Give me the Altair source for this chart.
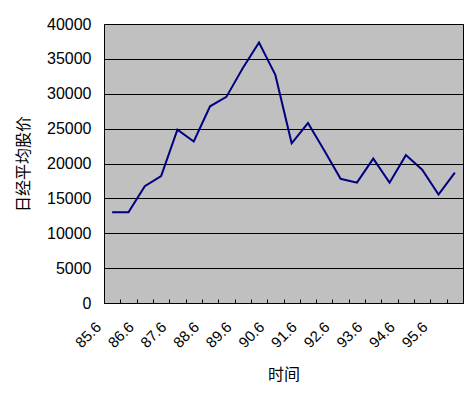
import altair as alt
import pandas as pd

periods = ["85.6", "85.12", "86.6", "86.12", "87.6", "87.12", "88.6", "88.12",
           "89.6", "89.12", "90.6", "90.12", "91.6", "91.12", "92.6", "92.12",
           "93.6", "93.12", "94.6", "94.12", "95.6", "95.12"]
nikkei = [13000, 13000, 16750, 18200, 24850, 23150, 28200, 29550,
          33650, 37350, 32700, 22900, 25800, 21850, 17800, 17250,
          20700, 17250, 21200, 19100, 15550, 18700]
y_ticks = [0, 5000, 10000, 15000, 20000, 25000, 30000, 35000, 40000]

df = pd.DataFrame({"period": periods, "value": nikkei})

chart = alt.Chart(df).mark_line(color="#000080", strokeWidth=2).encode(
    x=alt.X("period:O", sort=None,
            scale=alt.Scale(type="band", paddingInner=0, paddingOuter=0),
            axis=alt.Axis(title="时间", tickBand="extent", domain=False,
                          offset=-4, ticks=True, tickSize=4, tickColor="black",
                          tickWidth=1, labelAngle=-45, labelAlign="right",
                          labelBaseline="middle", labelOffset=-14,
                          labelPadding=21, labelFontSize=15,
                          labelFont="Liberation Sans", labelColor="black",
                          labelOverlap=False,
                          labelExpr="indexof(datum.label, '.12') >= 0 ? '' : datum.label",
                          titleFont="Noto Sans CJK SC", titleFontSize=16,
                          titleFontWeight="normal", titleColor="black",
                          titlePadding=16, grid=False)),
    y=alt.Y("value:Q",
            scale=alt.Scale(domain=[0, 40000], nice=False, zero=True),
            axis=alt.Axis(title="日经平均股价", values=y_ticks, format="d",
                          domain=False, ticks=False, labelPadding=13,
                          labelFontSize=16, labelFont="Liberation Sans",
                          labelColor="black", grid=True, gridColor="black",
                          gridOpacity=1, gridWidth=1,
                          titleFont="Noto Sans CJK SC", titleFontSize=16,
                          titleFontWeight="normal", titleColor="black",
                          titlePadding=15)),
).properties(
    width=359, height=279,
    autosize=alt.AutoSizeParams(type="none"),
    padding={"left": 104, "top": 24, "right": 8, "bottom": 94},
    background="white",
).configure_view(
    fill="#C0C0C0", stroke="black", strokeWidth=1
)

chart.save("out.html", embed_options={"renderer": "svg", "actions": False})
